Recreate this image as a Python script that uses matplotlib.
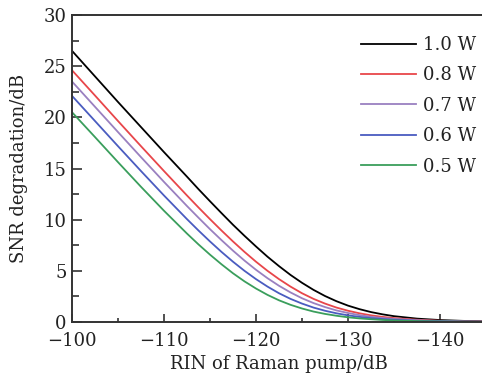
import matplotlib
matplotlib.use("Agg")
import matplotlib.pyplot as plt
from matplotlib.ticker import MultipleLocator

rin = [-100, -102.5, -105, -107.5, -110, -112.5, -113.75, -115, -116.25,
       -117.5, -118.75, -120, -121.25, -122.5, -123.75, -125, -126.25,
       -127.5, -128.75, -130, -131.25, -132.5, -133.75, -135, -137.5,
       -140, -142.5, -145]

snr_10 = [26.5, 24.0, 21.5, 19.05, 16.6, 14.2, 12.98, 11.8, 10.64, 9.5,
          8.42, 7.38, 6.38, 5.46, 4.60, 3.83, 3.14, 2.54, 2.03, 1.60,
          1.255, 0.97, 0.75, 0.57, 0.33, 0.19, 0.11, 0.06]
snr_08 = [24.6, 22.13, 19.64, 17.18, 14.75, 12.36, 11.19, 10.05, 8.94, 7.87,
          6.85, 5.89, 5.00, 4.19, 3.46, 2.81, 2.26, 1.80, 1.41, 1.10,
          0.85, 0.65, 0.50, 0.38, 0.22, 0.12, 0.07, 0.04]
snr_07 = [23.5, 21.03, 18.56, 16.11, 13.69, 11.33, 10.19, 9.07, 8.00, 6.97,
          6.00, 5.10, 4.28, 3.54, 2.89, 2.32, 1.85, 1.46, 1.13, 0.88,
          0.67, 0.51, 0.39, 0.30, 0.17, 0.10, 0.05, 0.03]
snr_06 = [22.1, 19.64, 17.18, 14.75, 12.36, 10.05, 8.94, 7.87, 6.85, 5.89,
          5.00, 4.19, 3.46, 2.81, 2.26, 1.80, 1.41, 1.10, 0.85, 0.65,
          0.50, 0.38, 0.29, 0.22, 0.12, 0.07, 0.04, 0.02]
snr_05 = [20.5, 18.07, 15.62, 13.21, 10.87, 8.64, 7.58, 6.58, 5.64, 4.76,
          3.97, 3.27, 2.65, 2.12, 1.68, 1.32, 1.02, 0.79, 0.61, 0.46,
          0.35, 0.27, 0.20, 0.15, 0.09, 0.05, 0.03, 0.015]

labels = ["1.0 W", "0.8 W", "0.7 W", "0.6 W", "0.5 W"]
series = [snr_10, snr_08, snr_07, snr_06, snr_05]
colors = ["#000000", "#e8464a", "#9a80c0", "#4a5cc0", "#3a9e5c"]

plt.rcParams["font.family"] = ["DejaVu Serif"]
plt.rcParams["mathtext.fontset"] = "dejavuserif"

fig = plt.figure(figsize=(4.82, 3.78), dpi=100)
ax = fig.add_axes([72 / 482, 56 / 378, 414 / 482, 307 / 378])

for ys, lab, c in zip(series, labels, colors):
    ax.plot(rin, ys, color=c, lw=1.3, label=lab)

ax.set_xlim(-100, -145)
ax.set_ylim(0, 30)
ax.xaxis.set_major_locator(MultipleLocator(10))
ax.xaxis.set_minor_locator(MultipleLocator(5))
ax.yaxis.set_major_locator(MultipleLocator(5))
ax.yaxis.set_minor_locator(MultipleLocator(2.5))
ax.tick_params(axis="both", which="both", direction="in", width=1.2,
               top=False, right=False, colors="#333333", labelcolor="#222222",
               labelsize=13)
ax.tick_params(axis="y", which="major", length=7, pad=4)
ax.tick_params(axis="y", which="minor", length=5)
ax.tick_params(axis="x", which="major", length=5.5, pad=7)
ax.tick_params(axis="x", which="minor", length=3.2)
for s in ax.spines.values():
    s.set_linewidth(1.4)
    s.set_color("#333333")

ax.set_xlabel("RIN of Raman pump/dB", fontsize=13, color="#222222", labelpad=4)
ax.set_ylabel("SNR degradation/dB", fontsize=13, color="#222222", labelpad=11)

leg = ax.legend(loc="upper left", bbox_to_anchor=(0.66, 0.985), frameon=False,
                fontsize=13, handlelength=3.0, handletextpad=0.4,
                labelspacing=0.69)
for t in leg.get_texts():
    t.set_color("#222222")

fig.savefig("out.png", dpi=100)
